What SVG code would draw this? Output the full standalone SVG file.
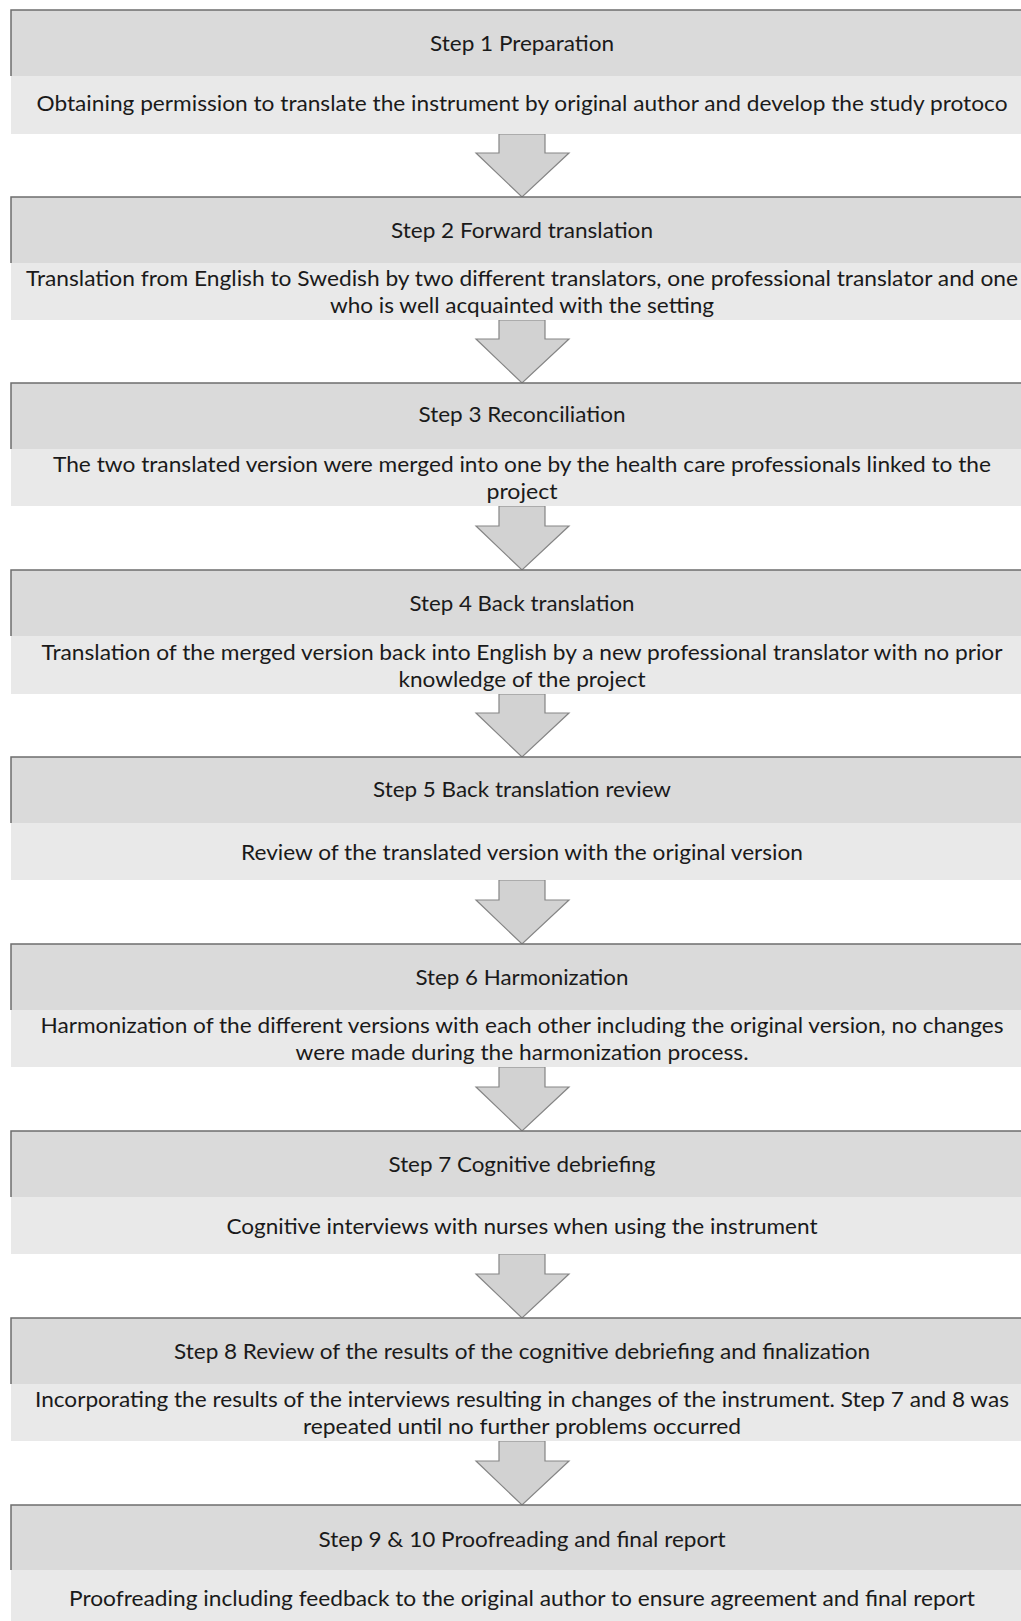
<svg xmlns="http://www.w3.org/2000/svg" width="1021" height="1621" viewBox="0 0 1021 1621">
<style>
.hd{fill:#dadada}
.bd{fill:#e9e9e9}
.bl{fill:none;stroke:#6e6e6e;stroke-width:1.5}
.ar{fill:#d2d2d2;stroke:#858585;stroke-width:1.2;stroke-linejoin:miter}
text{font-family:Lato,"Liberation Sans",sans-serif;font-size:21px;fill:#1a1a1a;text-anchor:middle}
</style>
<rect width="1021" height="1621" fill="#ffffff"/>
<g id="connectors">
<polygon class="ar" points="499,134 545,134 545,153 569,153 522,197 476,153 499,153"/>
<polygon class="ar" points="499,320 545,320 545,339 569,339 522,383 476,339 499,339"/>
<polygon class="ar" points="499,506 545,506 545,526 569,526 522,570 476,526 499,526"/>
<polygon class="ar" points="499,694 545,694 545,713 569,713 522,757 476,713 499,713"/>
<polygon class="ar" points="499,880 545,880 545,900 569,900 522,944 476,900 499,900"/>
<polygon class="ar" points="499,1067 545,1067 545,1087 569,1087 522,1131 476,1087 499,1087"/>
<polygon class="ar" points="499,1254 545,1254 545,1274 569,1274 522,1318 476,1274 499,1274"/>
<polygon class="ar" points="499,1441 545,1441 545,1461 569,1461 522,1505 476,1461 499,1461"/>
</g>
<g id="step1">
<rect class="hd" x="11" y="10" width="1020" height="66"/>
<rect class="bd" x="11" y="76" width="1020" height="58"/>
<path class="bl" d="M11,76V10H1021"/>
<text x="522" y="51" textLength="184" lengthAdjust="spacingAndGlyphs">Step 1 Preparation</text>
<text x="522" y="111" textLength="971" lengthAdjust="spacingAndGlyphs">Obtaining permission to translate the instrument by original author and develop the study protoco</text>
</g>
<g id="step2">
<rect class="hd" x="11" y="197" width="1020" height="66"/>
<rect class="bd" x="11" y="263" width="1020" height="57"/>
<path class="bl" d="M11,263V197H1021"/>
<text x="522" y="238" textLength="262" lengthAdjust="spacingAndGlyphs">Step 2 Forward translation</text>
<text x="522" y="286" textLength="992" lengthAdjust="spacingAndGlyphs">Translation from English to Swedish by two different translators, one professional translator and one</text>
<text x="522" y="313" textLength="384" lengthAdjust="spacingAndGlyphs">who is well acquainted with the setting</text>
</g>
<g id="step3">
<rect class="hd" x="11" y="383" width="1020" height="66"/>
<rect class="bd" x="11" y="449" width="1020" height="57"/>
<path class="bl" d="M11,449V383H1021"/>
<text x="522" y="422" textLength="207" lengthAdjust="spacingAndGlyphs">Step 3 Reconciliation</text>
<text x="522" y="472" textLength="938" lengthAdjust="spacingAndGlyphs">The two translated version were merged into one by the health care professionals linked to the</text>
<text x="522" y="499" textLength="71" lengthAdjust="spacingAndGlyphs">project</text>
</g>
<g id="step4">
<rect class="hd" x="11" y="570" width="1020" height="66"/>
<rect class="bd" x="11" y="636" width="1020" height="58"/>
<path class="bl" d="M11,636V570H1021"/>
<text x="522" y="611" textLength="225" lengthAdjust="spacingAndGlyphs">Step 4 Back translation</text>
<text x="522" y="660" textLength="961" lengthAdjust="spacingAndGlyphs">Translation of the merged version back into English by a new professional translator with no prior</text>
<text x="522" y="687" textLength="247" lengthAdjust="spacingAndGlyphs">knowledge of the project</text>
</g>
<g id="step5">
<rect class="hd" x="11" y="757" width="1020" height="66"/>
<rect class="bd" x="11" y="823" width="1020" height="57"/>
<path class="bl" d="M11,823V757H1021"/>
<text x="522" y="797" textLength="298" lengthAdjust="spacingAndGlyphs">Step 5 Back translation review</text>
<text x="522" y="860" textLength="562" lengthAdjust="spacingAndGlyphs">Review of the translated version with the original version</text>
</g>
<g id="step6">
<rect class="hd" x="11" y="944" width="1020" height="66"/>
<rect class="bd" x="11" y="1010" width="1020" height="57"/>
<path class="bl" d="M11,1010V944H1021"/>
<text x="522" y="985" textLength="213" lengthAdjust="spacingAndGlyphs">Step 6 Harmonization</text>
<text x="522" y="1033" textLength="963" lengthAdjust="spacingAndGlyphs">Harmonization of the different versions with each other including the original version, no changes</text>
<text x="522" y="1060" textLength="453" lengthAdjust="spacingAndGlyphs">were made during the harmonization process.</text>
</g>
<g id="step7">
<rect class="hd" x="11" y="1131" width="1020" height="66"/>
<rect class="bd" x="11" y="1197" width="1020" height="57"/>
<path class="bl" d="M11,1197V1131H1021"/>
<text x="522" y="1172" textLength="267" lengthAdjust="spacingAndGlyphs">Step 7 Cognitive debriefing</text>
<text x="522" y="1234" textLength="591" lengthAdjust="spacingAndGlyphs">Cognitive interviews with nurses when using the instrument</text>
</g>
<g id="step8">
<rect class="hd" x="11" y="1318" width="1020" height="66"/>
<rect class="bd" x="11" y="1384" width="1020" height="57"/>
<path class="bl" d="M11,1384V1318H1021"/>
<text x="522" y="1359" textLength="696" lengthAdjust="spacingAndGlyphs">Step 8 Review of the results of the cognitive debriefing and finalization</text>
<text x="522" y="1407" textLength="974" lengthAdjust="spacingAndGlyphs">Incorporating the results of the interviews resulting in changes of the instrument. Step 7 and 8 was</text>
<text x="522" y="1434" textLength="438" lengthAdjust="spacingAndGlyphs">repeated until no further problems occurred</text>
</g>
<g id="step9">
<rect class="hd" x="11" y="1505" width="1020" height="65"/>
<rect class="bd" x="11" y="1570" width="1020" height="51"/>
<path class="bl" d="M11,1570V1505H1021"/>
<text x="522" y="1547" textLength="407" lengthAdjust="spacingAndGlyphs">Step 9 &amp; 10 Proofreading and final report</text>
<text x="522" y="1606" textLength="906" lengthAdjust="spacingAndGlyphs">Proofreading including feedback to the original author to ensure agreement and final report</text>
</g>
</svg>
